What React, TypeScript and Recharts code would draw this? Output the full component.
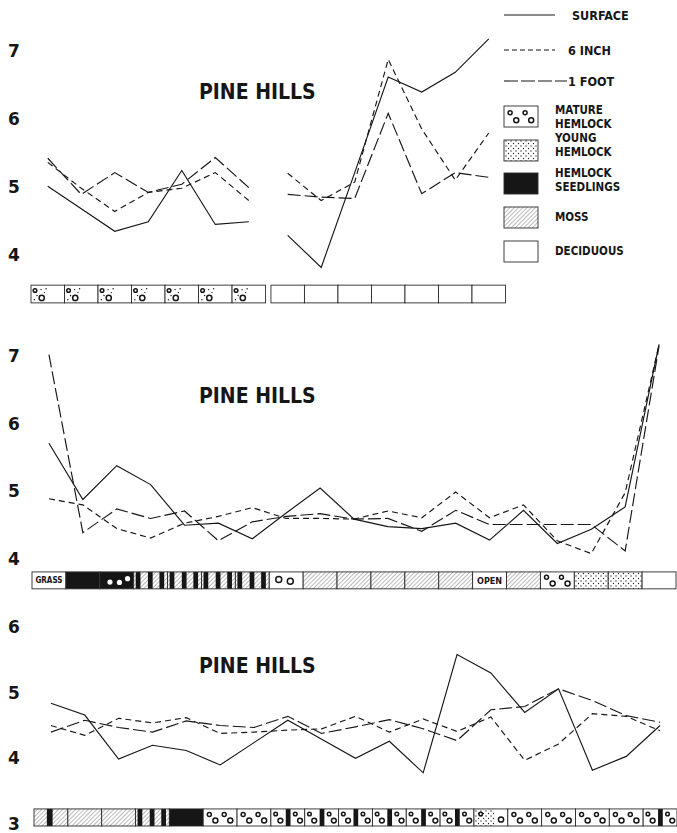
import React from "react";
import { LineChart, Line, XAxis, YAxis, ReferenceArea } from "recharts";

// Soil reaction (pH) at three depths along three Pine Hills transects.
// Top panel: two groups of seven stations (hemlock / deciduous).
const topLeftSurface = [5.01, 4.68, 4.35, 4.49, 5.24, 4.45, 4.49];
const topLeftSixInch = [5.36, 4.98, 4.64, 4.92, 4.98, 5.21, 4.8];
const topLeftOneFoot = [5.42, 4.89, 5.21, 4.92, 5.04, 5.43, 4.99];
const topRightSurface = [4.29, 3.82, 5.21, 6.61, 6.39, 6.68, 7.17];
const topRightSixInch = [5.2, 4.8, 5.07, 6.87, 5.85, 5.1, 5.79];
const topRightOneFoot = [4.89, 4.85, 4.83, 6.08, 4.9, 5.21, 5.14];

// Middle panel: 19 stations
const midSurface = [5.71, 4.88, 5.38, 5.1, 4.5, 4.53, 4.3, 4.68, 5.05, 4.59, 4.48, 4.45, 4.53, 4.28, 4.72, 4.23, 4.44, 4.77, 7.17];
const midSixInch = [4.89, 4.8, 4.45, 4.31, 4.53, 4.63, 4.76, 4.6, 4.6, 4.59, 4.71, 4.61, 4.99, 4.61, 4.8, 4.27, 4.08, 4.98, 7.17];
const midOneFoot = [7.02, 4.39, 4.74, 4.6, 4.71, 4.27, 4.55, 4.63, 4.67, 4.59, 4.6, 4.41, 4.72, 4.51, 4.51, 4.51, 4.51, 4.12, 7.15];

// Bottom panel: 19 stations
const botSurface = [4.84, 4.66, 3.99, 4.2, 4.12, 3.9, 4.24, 4.58, 4.29, 4.0, 4.26, 3.78, 5.58, 5.3, 4.7, 5.06, 3.82, 4.03, 4.5];
const botSixInch = [4.5, 4.35, 4.61, 4.54, 4.62, 4.38, 4.4, 4.43, 4.45, 4.64, 4.4, 4.6, 4.41, 4.63, 3.97, 4.22, 4.68, 4.64, 4.42];
const botOneFoot = [4.4, 4.58, 4.47, 4.4, 4.57, 4.5, 4.47, 4.64, 4.38, 4.48, 4.59, 4.45, 4.27, 4.74, 4.79, 5.06, 4.88, 4.65, 4.55];

const topTicks = [4, 5, 6, 7];
const midTicks = [4, 5, 6, 7];
const botTicks = [3, 4, 5, 6];

// vegetation under each station
const topStripLeft = ["matureYoung", "matureYoung", "matureYoung", "matureYoung", "matureYoung", "matureYoung", "matureYoung"];
const topStripRight = ["deciduous", "deciduous", "deciduous", "deciduous", "deciduous", "deciduous", "deciduous"];
const midStrip = [
  "grass", "seedling", "seedlingWhite", "stripes", "stripes", "stripes", "stripes", "matureSparse",
  "moss", "moss", "moss", "moss", "moss", "open", "moss", "mature", "young", "young", "deciduous",
];
const botStrip = [
  "mossBar", "moss", "moss", "stripes", "seedling", "mature", "mature", "matureBar", "matureBar",
  "matureBar", "matureBar", "matureBar", "matureBar", "youngMature", "mature", "mature", "mature", "mature", "matureBar",
];

const seriesLabels = ["SURFACE", "6 INCH", "1 FOOT"];
const swatchKinds = ["mature", "young", "seedling", "moss", "deciduous"];
const swatchLabels = [["MATURE", "HEMLOCK"], ["YOUNG", "HEMLOCK"], ["HEMLOCK", "SEEDLINGS"], ["MOSS"], ["DECIDUOUS"]];
const title = "PINE HILLS";

const SERIES = [
  { key: "surface", dash: undefined },
  { key: "sixInch", dash: "6 4" },
  { key: "oneFoot", dash: "13 4" },
];

const INK = "#161616";
const FONT = '"DejaVu Sans Condensed", "Liberation Sans Narrow", "DejaVu Sans", sans-serif';

function rowsFor(offset: number, s: number[], a: number[], b: number[]) {
  return s.map((v, i) => ({ x: offset + i + 0.5, surface: v, sixInch: a[i], oneFoot: b[i] }));
}

const RIGHT_OFFSET = 7.16;
const topRows = [
  ...rowsFor(0, topLeftSurface, topLeftSixInch, topLeftOneFoot),
  { x: 7.08, surface: null, sixInch: null, oneFoot: null },
  ...rowsFor(RIGHT_OFFSET, topRightSurface, topRightSixInch, topRightOneFoot),
];
const midRows = rowsFor(0, midSurface, midSixInch, midOneFoot);
const botRows = rowsFor(0, botSurface, botSixInch, botOneFoot);

const topCells = [
  ...topStripLeft.map((k, i) => ({ x1: i, x2: i + 1, kind: k })),
  ...topStripRight.map((k, i) => ({ x1: RIGHT_OFFSET + i, x2: RIGHT_OFFSET + i + 1, kind: k })),
];
const midCells = midStrip.map((k, i) => ({ x1: i, x2: i + 1, kind: k }));
const botCells = botStrip.map((k, i) => ({ x1: i, x2: i + 1, kind: k }));

function StripCell(props: any) {
  const { x, y, width: w, height: h, kind } = props;
  const ring = (cx: number, cy: number, r: number) => (
    <circle key={`r${cx}${cy}`} cx={x + cx * w} cy={y + cy * h} r={r} fill="none" stroke={INK} strokeWidth={1.5} />
  );
  const dot = (cx: number, cy: number, r: number, fill = INK) => (
    <circle key={`d${cx}${cy}`} cx={x + cx * w} cy={y + cy * h} r={r} fill={fill} />
  );
  const bar = (a: number, b: number) => (
    <rect key={`b${a}`} x={x + a * w} y={y} width={(b - a) * w} height={h} fill={INK} />
  );
  const fill = (f: string, a = 0, b = 1) => (
    <rect key={`f${a}`} x={x + a * w} y={y} width={(b - a) * w} height={h} fill={f} />
  );
  const label = (t: string, size: number) => (
    <text key="t" x={x + w / 2} y={y + h / 2} dy="0.36em" textAnchor="middle" fontFamily={FONT} fontWeight="bold" fontSize={size} fill={INK}>
      {t}
    </text>
  );
  let body: React.ReactNode[] = [];
  switch (kind) {
    case "moss":
      body = [fill("url(#hatch)")];
      break;
    case "mossBar":
      body = [fill("url(#hatch)"), bar(0.38, 0.55)];
      break;
    case "stripes":
      body = [fill("url(#hatch)"), bar(0.06, 0.2), bar(0.42, 0.56), bar(0.76, 0.9)];
      break;
    case "seedling":
      body = [fill(INK)];
      break;
    case "seedlingWhite":
      body = [fill(INK), dot(0.3, 0.6, 2.6, "#fff"), dot(0.58, 0.62, 2.6, "#fff"), dot(0.82, 0.4, 2.6, "#fff")];
      break;
    case "mature":
      body = [ring(0.18, 0.32, 2), ring(0.36, 0.68, 2.5), ring(0.62, 0.32, 2), ring(0.8, 0.68, 2.5)];
      break;
    case "matureSparse":
      body = [ring(0.28, 0.45, 3), ring(0.62, 0.55, 3)];
      break;
    case "matureBar":
      body = [ring(0.14, 0.3, 1.8), ring(0.28, 0.68, 2.4), bar(0.44, 0.58), ring(0.72, 0.3, 1.8), ring(0.86, 0.68, 2.4)];
      break;
    case "matureYoung":
      body = [
        ring(0.12, 0.3, 1.8), ring(0.32, 0.72, 2.6),
        dot(0.3, 0.25, 0.7), dot(0.4, 0.42, 0.7), dot(0.18, 0.58, 0.7), dot(0.45, 0.2, 0.7), dot(0.1, 0.82, 0.7),
      ];
      break;
    case "youngMature":
      body = [fill("url(#stipple)", 0, 0.62), ring(0.2, 0.3, 1.8), ring(0.8, 0.62, 2.6)];
      break;
    case "young":
      body = [fill("url(#stipple)")];
      break;
    case "grass":
      body = [label("GRASS", 8)];
      break;
    case "open":
      body = [label("OPEN", 9)];
      break;
    default:
      body = [];
  }
  return (
    <g>
      <rect x={x} y={y} width={w} height={h} fill="#fff" />
      {body}
      <rect x={x} y={y} width={w} height={h} fill="none" stroke="#2a2a2a" strokeWidth={0.9} />
    </g>
  );
}

function AxisTick(props: any) {
  const { y, payload } = props;
  return (
    <text x={8} y={y} dy="0.36em" textAnchor="start" fontFamily='"DejaVu Sans", sans-serif' fontWeight="bold" fontSize={17} fill={INK}>
      {payload.value}
    </text>
  );
}

interface PanelProps {
  top: number;
  height: number;
  margin: { top: number; right: number; bottom: number; left: number };
  yWidth: number;
  domainY: [number, number];
  ticks: number[];
  xMax: number;
  strip: [number, number];
  rows: any[];
  cells: { x1: number; x2: number; kind: string }[];
}

function Panel({ top, height, margin, yWidth, domainY, ticks, xMax, strip, rows, cells }: PanelProps) {
  return (
    <div style={{ position: "absolute", left: 0, top }}>
      <LineChart width={677} height={height} data={rows} margin={margin}>
        <XAxis type="number" dataKey="x" domain={[0, xMax]} allowDataOverflow hide />
        <YAxis
          type="number"
          domain={domainY}
          ticks={ticks}
          interval={0}
          allowDataOverflow
          width={yWidth}
          axisLine={false}
          tickLine={false}
          tick={<AxisTick />}
        />
        {cells.map((c, i) => (
          <ReferenceArea
            key={i}
            x1={c.x1}
            x2={c.x2}
            y1={strip[0]}
            y2={strip[1]}
            ifOverflow="visible"
            shape={(p: any) => <StripCell {...p} kind={c.kind} />}
          />
        ))}
        {SERIES.map((s) => (
          <Line
            key={s.key}
            type="linear"
            dataKey={s.key}
            stroke={INK}
            strokeWidth={1.15}
            strokeDasharray={s.dash}
            dot={false}
            activeDot={false}
            connectNulls={false}
            isAnimationActive={false}
          />
        ))}
      </LineChart>
    </div>
  );
}

function Overlay() {
  const lineEnds = [555, 555, 567];
  const textX = [572, 568, 568];
  const lineY = [15, 50, 81];
  const boxTop = [106, 140, 173, 207, 241];
  const textTop = [110, 138, 173, 217, 251];
  return (
    <svg width={677} height={833} style={{ position: "absolute", left: 0, top: 0, pointerEvents: "none" }}>
      <defs>
        <pattern id="hatch" width={3} height={3} patternUnits="userSpaceOnUse" patternTransform="rotate(45)">
          <line x1={0} y1={0} x2={0} y2={3} stroke="#555" strokeWidth={0.8} />
        </pattern>
        <pattern id="stipple" width={5} height={5} patternUnits="userSpaceOnUse">
          <circle cx={1} cy={1} r={0.65} fill="#222" />
          <circle cx={3.5} cy={3.5} r={0.65} fill="#222" />
        </pattern>
      </defs>

      {/* panel titles */}
      {[99, 403, 673].map((b) => (
        <text key={b} x={199} y={b} fontFamily={FONT} fontWeight="bold" fontSize={21} fill={INK}>
          {title}
        </text>
      ))}

      {/* legend: line styles */}
      {seriesLabels.map((lab, i) => (
        <g key={lab}>
          <line x1={504} x2={lineEnds[i]} y1={lineY[i]} y2={lineY[i]} stroke={INK} strokeWidth={1.1} strokeDasharray={i === 1 ? "5 3" : i === 2 ? "14 3" : undefined} />
          <text x={textX[i]} y={lineY[i]} dy="0.36em" fontFamily={FONT} fontWeight="bold" fontSize={12.5} fill={INK}>
            {lab}
          </text>
        </g>
      ))}

      {/* legend: vegetation swatches */}
      {swatchKinds.map((k, i) => (
        <g key={k}>
          <StripCell x={504} y={boxTop[i]} width={34} height={21} kind={k} />
          {swatchLabels[i].map((t, j) => (
            <text key={t + j} x={555} y={textTop[i] + j * 14} dy="0.36em" fontFamily={FONT} fontWeight="bold" fontSize={11.5} fill={INK}>
              {t}
            </text>
          ))}
        </g>
      ))}
    </svg>
  );
}

export default function App() {
  return (
    <div style={{ position: "absolute", left: 0, top: 0, width: 677, height: 833, background: "#fff", overflow: "hidden" }}>
      <Panel
        top={0}
        height={320}
        margin={{ top: 23.2, right: 171.5, bottom: 10.3, left: 0 }}
        yWidth={31}
        domainY={[3.2, 7.4]}
        ticks={topTicks}
        xMax={14.16}
        strip={[3.3, 3.56]}
        rows={topRows}
        cells={topCells}
      />
      <Panel
        top={320}
        height={283}
        margin={{ top: 8.9, right: 1, bottom: 10.1, left: 0 }}
        yWidth={32}
        domainY={[3.5, 7.4]}
        ticks={midTicks}
        xMax={19}
        strip={[3.56, 3.81]}
        rows={midRows}
        cells={midCells}
      />
      <Panel
        top={600}
        height={233}
        margin={{ top: 13.9, right: 0, bottom: 2.4, left: 0 }}
        yWidth={34}
        domainY={[2.9, 6.2]}
        ticks={botTicks}
        xMax={19}
        strip={[2.97, 3.23]}
        rows={botRows}
        cells={botCells}
      />
      <Overlay />
    </div>
  );
}
